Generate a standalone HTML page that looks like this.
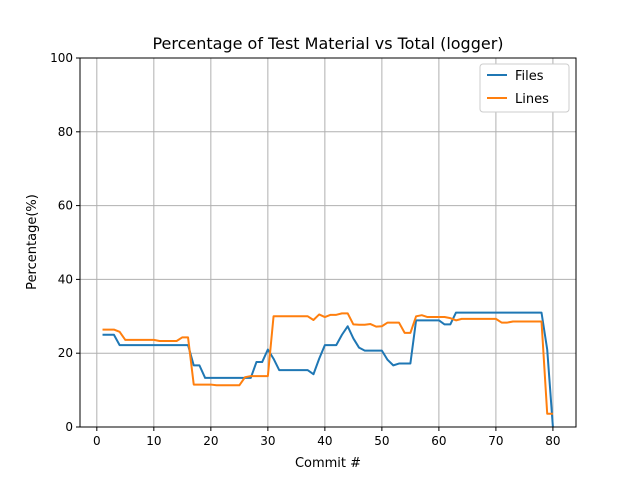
<!DOCTYPE html>
<html><head><meta charset="utf-8"><style>
body{margin:0;background:#fff;font-family:"DejaVu Sans","Liberation Sans",sans-serif;}
svg text{font-family:"DejaVu Sans","Liberation Sans",sans-serif;}
</style></head><body>
<svg id="chart" width="640" height="480" xmlns="http://www.w3.org/2000/svg">
<rect width="640" height="480" fill="#fff"/>
<text x="328" y="49" text-anchor="middle" font-size="16">Percentage of Test Material vs Total (logger)</text>
<g id="grid"></g>
<g id="series"></g>
<rect x="80" y="58" width="496" height="369" fill="none" stroke="#000" stroke-width="1"/>
<g id="ticks"></g>
<text x="328" y="467" text-anchor="middle" font-size="13">Commit #</text>
<text transform="translate(36,242) rotate(-90)" text-anchor="middle" font-size="13">Percentage(%)</text>
<g>
<rect x="480" y="64" width="89" height="48" rx="3" fill="#fff" stroke="#ccc"/>
<line x1="487" y1="75" x2="507" y2="75" stroke="#1f77b4" stroke-width="2"/>
<text x="515" y="80" font-size="13">Files</text>
<line x1="487" y1="98" x2="507" y2="98" stroke="#ff7f0e" stroke-width="2"/>
<text x="515" y="103" font-size="13">Lines</text>
</g>
</svg>
<script>
const commits = Array.from({length:80},(_,i)=>i+1);
const filesPct = [25,25,25,22.2,22.2,22.2,22.2,22.2,22.2,22.2,22.2,22.2,22.2,22.2,22.2,22.2,16.7,16.7,13.3,13.3,13.3,13.3,13.3,13.3,13.3,13.3,13.3,17.6,17.6,21,18.5,15.4,15.4,15.4,15.4,15.4,15.4,14.3,18.5,22.2,22.2,22.2,25,27.3,24,21.5,20.7,20.7,20.7,20.7,18.2,16.7,17.2,17.2,17.2,28.9,28.9,28.9,28.9,28.9,27.8,27.8,31,31,31,31,31,31,31,31,31,31,31,31,31,31,31,31,21,0];
const linesPct = [26.4,26.4,26.4,25.8,23.6,23.6,23.6,23.6,23.6,23.6,23.3,23.3,23.3,23.3,24.3,24.3,11.5,11.5,11.5,11.5,11.3,11.3,11.3,11.3,11.3,13.5,13.8,13.8,13.8,13.8,30,30,30,30,30,30,30,29,30.5,29.8,30.4,30.4,30.8,30.8,27.8,27.7,27.7,27.9,27.2,27.3,28.3,28.3,28.3,25.5,25.5,30,30.3,29.8,29.8,29.8,29.8,29.5,28.9,29.3,29.3,29.3,29.3,29.3,29.3,29.3,28.3,28.3,28.6,28.6,28.6,28.6,28.6,28.6,3.6,3.6];
const xTicks = [0,10,20,30,40,50,60,70,80];
const yTicks = [0,20,40,60,80,100];
const X0=80,X1=576,Y0=58,Y1=427,xmin=-2.95,xmax=84.05,ymin=0,ymax=100;
const sx=v=>X0+(v-xmin)/(xmax-xmin)*(X1-X0);
const sy=v=>Y1-(v-ymin)/(ymax-ymin)*(Y1-Y0);
const NS="http://www.w3.org/2000/svg";
const grid=document.getElementById('grid'),ticks=document.getElementById('ticks'),series=document.getElementById('series');
function mk(tag,attrs,parent){const e=document.createElementNS(NS,tag);for(const k in attrs)e.setAttribute(k,attrs[k]);parent.appendChild(e);return e;}
xTicks.forEach(t=>{
  const g=mk('line',{x1:sx(t),x2:sx(t),y1:Y0,y2:Y1,stroke:'#b0b0b0','stroke-width':1},grid);
  
  
  mk('line',{x1:sx(t),x2:sx(t),y1:Y1,y2:Y1+4,stroke:'#000'},ticks);
  const tx=mk('text',{x:sx(t),y:Y1+18,'text-anchor':'middle','font-size':12},ticks);
  tx.textContent=t;
  
  
});
yTicks.forEach(t=>{
  const g=mk('line',{x1:X0,x2:X1,y1:sy(t),y2:sy(t),stroke:'#b0b0b0','stroke-width':1},grid);
  
  
  mk('line',{x1:X0-4,x2:X0,y1:sy(t),y2:sy(t),stroke:'#000'},ticks);
  const tx=mk('text',{x:X0-7,y:sy(t)+4,'text-anchor':'end','font-size':12},ticks);
  tx.textContent=t;
  
  
});
function line(vals,color,name){
  const p=mk('polyline',{points:vals.map((v,i)=>sx(commits[i])+','+sy(v)).join(' '),fill:'none',stroke:color,'stroke-width':2,'stroke-linejoin':'round'},series);
  
  
}
line(filesPct,'#1f77b4','files-line');
line(linesPct,'#ff7f0e','lines-line');
</script>
</body></html>
